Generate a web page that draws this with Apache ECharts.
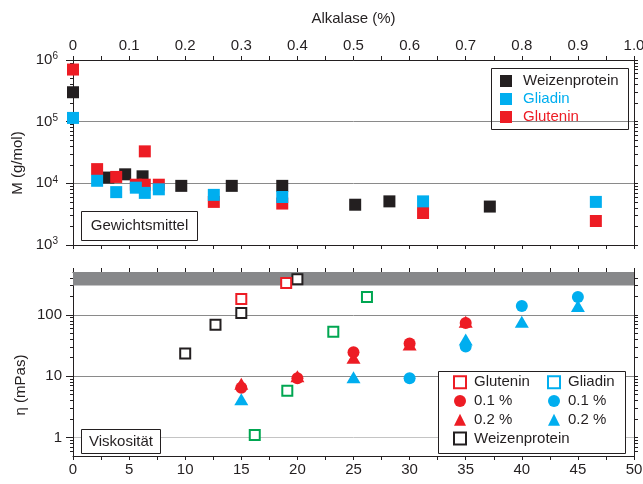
<!DOCTYPE html>
<html>
<head>
<meta charset="utf-8">
<script src="https://cdn.jsdelivr.net/npm/echarts@6/dist/echarts.min.js"></script>
<style>
  html, body { margin: 0; padding: 0; background: #fff; }
  #chart { width: 643px; height: 484px; }
</style>
</head>
<body>
<div id="chart"></div>
<script>
  // oberes Diagramm: Alkalase (%) gegen M (g/mol)
  const wpAlk = [0, 0.063, 0.093, 0.124, 0.193, 0.283, 0.373, 0.503, 0.564, 0.743];
  const wpM = [300000, 12400, 14000, 13000, 9100, 9100, 9100, 4500, 5100, 4200];
  const glutAlk = [0, 0.043, 0.077, 0.112, 0.128, 0.128, 0.153, 0.251, 0.373, 0.624, 0.932];
  const glutM = [700000, 17000, 12700, 9500, 33000, 9500, 9500, 5000, 4700, 3300, 2450];
  const gliaAlk = [0, 0.043, 0.077, 0.112, 0.128, 0.153, 0.251, 0.373, 0.624, 0.932];
  const gliaM = [115000, 11000, 7200, 8500, 7000, 8000, 6500, 6000, 5100, 5000];

  // unteres Diagramm: Viskositaet (mPas)
  const wpVisX = [10, 12.7, 15, 20];
  const wpVis = [23.5, 69, 107, 380];
  const glutVisX = [15, 19];
  const glutVis = [182, 330];
  const greenX = [16.2, 19.1, 23.2, 26.2];
  const greenVis = [1.1, 5.8, 53, 195];
  const glut01X = [15, 20, 25, 30, 35];
  const glut01 = [6.5, 9.3, 24.5, 34, 74];
  const glut02X = [15, 20, 25, 30, 35];
  const glut02 = [7.5, 10, 20, 33, 77];
  const glia01X = [30, 35, 40, 45];
  const glia01 = [9.3, 30.5, 140, 195];
  const glia02X = [15, 25, 35, 40, 45];
  const glia02 = [4.2, 9.6, 39.5, 77, 140];

  const BLACK = '#231f20', RED = '#ed1c24', BLUE = '#00aeef', GREEN = '#00a651';
  const FONT = 'Liberation Sans';
  const txt = { color: BLACK, fontSize: 15, fontFamily: FONT };
  const line = { color: BLACK, width: 1 };

  const zip = (a, b) => a.map((v, i) => [v, b[i]]);

  // log ticks (2..9 x 10^n)
  function minorLog(e0, e1) {
    const out = [];
    for (let e = e0; e < e1; e++) {
      for (let k = 2; k <= 9; k++) out.push(k * Math.pow(10, e));
    }
    return out;
  }
  function majorLog(e0, e1) {
    const out = [];
    for (let e = e0; e <= e1; e++) out.push(Math.pow(10, e));
    return out;
  }

  const legendText = {
    'Glutenin η': 'Glutenin', 'Gliadin η': 'Gliadin',
    'Glutenin 0.1': '0.1 %', 'Glutenin 0.2': '0.2 %',
    'Gliadin 0.1': '0.1 %', 'Gliadin 0.2': '0.2 %',
    'Weizenprotein η': 'Weizenprotein'
  };

  function xAx(grid, pos, max, step, withLabel, extra) {
    return Object.assign({
      gridIndex: grid, type: 'value', position: pos, min: 0, max: max, interval: step,
      axisLine: { show: true, onZero: false, lineStyle: line },
      axisTick: { show: true, inside: false, length: 4, lineStyle: line },
      minorTick: { show: true, splitNumber: 2, length: 4, lineStyle: line },
      axisLabel: withLabel ? Object.assign({ margin: 8 }, txt) : { show: false },
      splitLine: { show: false }
    }, extra || {});
  }

  const chart = echarts.init(document.getElementById('chart'));
  chart.setOption({
    animation: false,
    backgroundColor: '#fff',
    grid: [
      { left: 73, top: 60, width: 561, height: 185, outerBoundsMode: 'none' },
      { left: 73, top: 272, width: 561, height: 184, outerBoundsMode: 'none' }
    ],
    xAxis: [
      xAx(0, 'top', 1, 0.1, true, {
        axisLabel: Object.assign({ margin: 7, formatter: v => v === 0 ? '0' : v.toFixed(1) }, txt),
        name: 'Alkalase (%)', nameLocation: 'middle', nameGap: 34,
        nameTextStyle: txt
      }),
      xAx(0, 'bottom', 1, 0.1, false),
      xAx(1, 'bottom', 50, 5, true, {
        axisLabel: Object.assign({ margin: 6 }, txt)
      }),
      xAx(1, 'top', 50, 5, false)
    ],
    yAxis: [
      // oben links
      {
        gridIndex: 0, type: 'log', logBase: 10, min: 1000, max: 1000000, position: 'left',
        axisLine: { show: true, lineStyle: line },
        axisTick: { show: true, length: 7, lineStyle: line },
        axisLabel: {
          margin: 15,
          formatter: v => '{b|10}{s|' + Math.round(Math.log10(v)) + '}',
          rich: {
            b: { color: BLACK, fontSize: 15, fontFamily: FONT },
            s: { color: BLACK, fontSize: 10, fontFamily: FONT, padding: [0, 0, 7, 0] }
          }
        },
        splitLine: { show: true, lineStyle: { color: '#8a8a8a', width: 1 } }
      },
      {
        gridIndex: 0, type: 'log', logBase: 10, min: 1000, max: 1000000, position: 'left',
        axisLine: { show: false },
        axisTick: { show: true, length: 3, lineStyle: line, customValues: minorLog(3, 6) },
        axisLabel: { show: false }, splitLine: { show: false }
      },
      {
        gridIndex: 0, type: 'log', logBase: 10, min: 1000, max: 1000000, position: 'right',
        axisLine: { show: true, lineStyle: line },
        axisTick: { show: true, length: 4, lineStyle: line, customValues: minorLog(3, 6).concat(majorLog(3, 6)) },
        axisLabel: { show: false }, splitLine: { show: false }
      },
      // unten links
      {
        gridIndex: 1, type: 'log', logBase: 10, min: 0.5, max: 500, position: 'left',
        axisLine: { show: true, lineStyle: line },
        axisTick: { show: true, length: 7, lineStyle: line, customValues: [1, 10, 100] },
        axisLabel: Object.assign({ margin: 11, customValues: [1, 10, 100] }, txt),
        splitLine: { show: true, lineStyle: { color: ['#c4c4c4', '#8a8a8a', '#8a8a8a'], width: 1 } }
      },
      {
        gridIndex: 1, type: 'log', logBase: 10, min: 0.5, max: 500, position: 'left',
        axisLine: { show: false },
        axisTick: { show: true, length: 3, lineStyle: line, customValues: [0.6, 0.7, 0.8, 0.9].concat(minorLog(0, 2), [200, 300, 400]) },
        axisLabel: { show: false }, splitLine: { show: false }
      },
      {
        gridIndex: 1, type: 'log', logBase: 10, min: 0.5, max: 500, position: 'right',
        axisLine: { show: true, lineStyle: line },
        axisTick: { show: true, length: 4, lineStyle: line, customValues: [0.6, 0.7, 0.8, 0.9, 1, 10, 100].concat(minorLog(0, 2), [200, 300, 400]) },
        axisLabel: { show: false }, splitLine: { show: false }
      }
    ],
    legend: [
      {
        left: 500, top: 72, orient: 'vertical', itemGap: 0, itemWidth: 12, itemHeight: 12,
        selectedMode: false, padding: 0,
        textStyle: { fontSize: 15, fontFamily: FONT, lineHeight: 18, padding: [0, 0, 0, 6] },
        data: [
          { name: 'Weizenprotein', textStyle: { color: BLACK } },
          { name: 'Gliadin', textStyle: { color: BLUE } },
          { name: 'Glutenin', textStyle: { color: RED } }
        ]
      },
      {
        left: 453, top: 373, orient: 'vertical', itemGap: 0, itemWidth: 12, itemHeight: 12,
        selectedMode: false, padding: 0,
        formatter: n => legendText[n],
        textStyle: { color: BLACK, fontSize: 15, fontFamily: FONT, lineHeight: 18.7, padding: [0, 0, 0, 3] },
        data: ['Glutenin η', 'Glutenin 0.1', 'Glutenin 0.2', 'Weizenprotein η']
      },
      {
        left: 547, top: 373, orient: 'vertical', itemGap: 0, itemWidth: 12, itemHeight: 12,
        selectedMode: false, padding: 0,
        formatter: n => legendText[n],
        textStyle: { color: BLACK, fontSize: 15, fontFamily: FONT, lineHeight: 18.7, padding: [0, 0, 0, 3] },
        data: ['Gliadin η', 'Gliadin 0.1', 'Gliadin 0.2']
      }
    ],
    graphic: [
      { type: 'rect', shape: { x: 491.5, y: 68.5, width: 137, height: 61 }, style: { fill: 'none', stroke: BLACK, lineWidth: 1 }, z: 10 },
      { type: 'rect', shape: { x: 438.5, y: 371.5, width: 187, height: 82 }, style: { fill: '#fff', stroke: BLACK, lineWidth: 1 }, z: 1 },
      { type: 'rect', shape: { x: 81.5, y: 211.5, width: 116, height: 29 }, style: { fill: '#fff', stroke: BLACK, lineWidth: 1 }, z: 10 },
      { type: 'text', x: 139.5, y: 226, style: { text: 'Gewichtsmittel', fill: BLACK, font: '15px "Liberation Sans"', align: 'center', verticalAlign: 'middle' }, z: 11 },
      { type: 'rect', shape: { x: 81.5, y: 429.5, width: 79, height: 24 }, style: { fill: '#fff', stroke: BLACK, lineWidth: 1 }, z: 10 },
      { type: 'text', x: 121, y: 442, style: { text: 'Viskosität', fill: BLACK, font: '15px "Liberation Sans"', align: 'center', verticalAlign: 'middle' }, z: 11 },
      { type: 'text', x: 18, y: 163, rotation: Math.PI / 2, style: { text: 'M (g/mol)', fill: BLACK, font: '15px "Liberation Sans"', align: 'center', verticalAlign: 'middle' } },
      { type: 'text', x: 21, y: 385, rotation: Math.PI / 2, style: { text: 'η (mPas)', fill: BLACK, font: '15px "Liberation Sans"', align: 'center', verticalAlign: 'middle' } }
    ],
    series: [
      { name: 'Weizenprotein', type: 'scatter', xAxisIndex: 0, yAxisIndex: 0, symbol: 'rect', symbolSize: 12,
        itemStyle: { color: BLACK, opacity: 1 }, data: zip(wpAlk, wpM) },
      { name: 'Glutenin', type: 'scatter', xAxisIndex: 0, yAxisIndex: 0, symbol: 'rect', symbolSize: 12,
        itemStyle: { color: RED, opacity: 1 }, data: zip(glutAlk, glutM) },
      { name: 'Gliadin', type: 'scatter', xAxisIndex: 0, yAxisIndex: 0, symbol: 'rect', symbolSize: 12,
        itemStyle: { color: BLUE, opacity: 1 }, data: zip(gliaAlk, gliaM) },

      { name: 'grün', type: 'scatter', xAxisIndex: 2, yAxisIndex: 3, symbol: 'rect', symbolSize: 10,
        itemStyle: { color: '#fff', borderColor: GREEN, borderWidth: 2, opacity: 1 }, data: zip(greenX, greenVis),
        markArea: { silent: true, itemStyle: { color: '#87888a' }, data: [[{ yAxis: 300 }, { yAxis: 500 }]] } },
      { name: 'Weizenprotein η', type: 'scatter', xAxisIndex: 2, yAxisIndex: 3, symbol: 'rect', symbolSize: 10,
        itemStyle: { color: '#fff', borderColor: BLACK, borderWidth: 2, opacity: 1 }, data: zip(wpVisX, wpVis) },
      { name: 'Glutenin η', type: 'scatter', xAxisIndex: 2, yAxisIndex: 3, symbol: 'rect', symbolSize: 10,
        itemStyle: { color: '#fff', borderColor: RED, borderWidth: 2, opacity: 1 }, data: zip(glutVisX, glutVis) },
      { name: 'Gliadin η', type: 'scatter', xAxisIndex: 2, yAxisIndex: 3, symbol: 'rect', symbolSize: 10,
        itemStyle: { color: '#fff', borderColor: BLUE, borderWidth: 2, opacity: 1 }, data: [] },
      { name: 'Glutenin 0.2', type: 'scatter', xAxisIndex: 2, yAxisIndex: 3, symbol: 'triangle', symbolSize: [14, 12],
        itemStyle: { color: RED, opacity: 1 }, data: zip(glut02X, glut02) },
      { name: 'Glutenin 0.1', type: 'scatter', xAxisIndex: 2, yAxisIndex: 3, symbol: 'circle', symbolSize: 12,
        itemStyle: { color: RED, opacity: 1 }, data: zip(glut01X, glut01) },
      { name: 'Gliadin 0.2', type: 'scatter', xAxisIndex: 2, yAxisIndex: 3, symbol: 'triangle', symbolSize: [14, 12],
        itemStyle: { color: BLUE, opacity: 1 }, data: zip(glia02X, glia02) },
      { name: 'Gliadin 0.1', type: 'scatter', xAxisIndex: 2, yAxisIndex: 3, symbol: 'circle', symbolSize: 12,
        itemStyle: { color: BLUE, opacity: 1 }, data: zip(glia01X, glia01) }
    ]
  });
</script>
</body>
</html>
